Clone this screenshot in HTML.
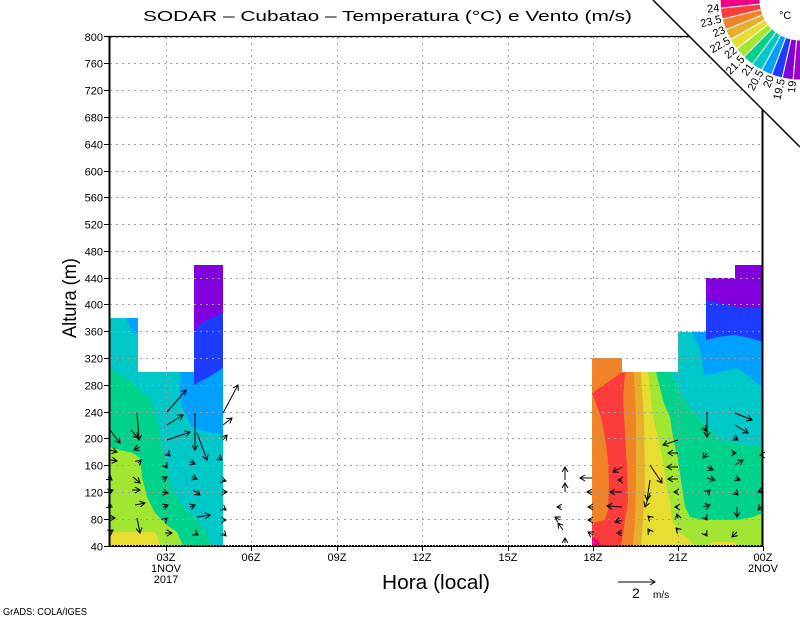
<!DOCTYPE html>
<html><head><meta charset="utf-8"><style>
html,body{margin:0;padding:0;background:#fff;}
svg{display:block;}
text{font-family:"Liberation Sans",sans-serif;fill:#000;}
</style></head><body>
<svg width="800" height="618" viewBox="0 0 800 618" xmlns="http://www.w3.org/2000/svg">
<defs>
<marker id="ah" markerWidth="7" markerHeight="8" refX="0" refY="0" viewBox="-6 -4 7 8" orient="auto" markerUnits="userSpaceOnUse">
<path d="M-5,-3 L0,0 L-5,3" fill="none" stroke="#000" stroke-width="1"/>
</marker>
<clipPath id="cl"><polygon points="110,546 110,318 138,318 138,372 194,372 194,265 223,265 223,546"/></clipPath>
<clipPath id="cr"><polygon points="592,546 592,358 622,358 622,372 678,372 678,332 706,332 706,278 735,278 735,265 763,265 763,546"/></clipPath>
</defs>
<rect width="800" height="618" fill="#fff"/>

<!-- Left data block -->
<g clip-path="url(#cl)">
<rect x="100" y="250" width="130" height="300" fill="#00c8c8"/>
<polygon points="126,318 138,318 138,334 133,333" fill="#00a0ff"/>
<polygon points="180,372 194,372 194,265 223,265 223,435 200,430 192,427 182,407 180,397" fill="#00a0ff"/>
<polygon points="194,265 223,265 223,368 207,378 197,383 195,386 194,385" fill="#1e3cff"/>
<polygon points="194,265 223,265 223,313 213,317 203,322 197,328 194,332" fill="#8200dc"/>
<polygon points="110,367 120,375 133,383 143,393 150,397 158,423 163,450 170,483 180,503 197,520 207,533 210,546 110,546" fill="#00d28c"/>
<polygon points="110,447 120,450 133,453 140,458 142,477 147,497 155,513 167,525 177,532 183,546 110,546" fill="#a0e632"/>
<polygon points="110,532 155,532 158,538 160,546 110,546" fill="#e6dc32"/>
</g>

<!-- Right data block -->
<g clip-path="url(#cr)">
<rect x="585" y="250" width="185" height="300" fill="#f08228"/>
<polygon points="592,393 621,373 625,372 623,400 625,433 627,467 628,500 625,520 621,546 592,546 592,523 605,520 608,510 609,483 608,460 605,437 601,417" fill="#fa3c3c"/>
<polygon points="592,537 598,540 602,546 592,546" fill="#f00082"/>
<polygon points="634,372 636,420 636,483 635,520 633,546 770,546 770,250 634,250" fill="#e6af2d"/>
<polygon points="641,372 644,420 645,483 643,520 641,546 770,546 770,250 641,250" fill="#e6dc32"/>
<polygon points="648,372 653,417 658,437 663,460 666,483 670,500 672,520 680,533 690,540 694,546 770,546 770,250 648,250" fill="#a0e632"/>
<polygon points="707,546 712,542 735,542 738,546" fill="#e6dc32"/>
<polygon points="656,372 670,372 680,393 690,407 700,420 713,433 723,442 733,442 747,445 763,447 763,513 753,517 737,520 703,520 690,517 685,507 682,487 678,460 673,437 670,418 663,400" fill="#00d28c"/>
<polygon points="670,372 678,372 678,332 706,332 706,265 763,265 763,447 747,445 733,442 723,442 713,433 700,420 690,407 680,393" fill="#00c8c8"/>
<polygon points="692,332 706,332 706,265 763,265 763,388 750,377 737,368 720,372 704,375 700,350" fill="#00a0ff"/>
<polygon points="706,265 763,265 763,342 750,338 735,335 717,337 707,340 706,340" fill="#1e3cff"/>
<polygon points="706,265 763,265 763,308 737,307 720,303 706,300" fill="#8200dc"/>
</g>

<!-- Grid -->
<g stroke="#a0a0a0" stroke-width="1" stroke-dasharray="2,4" fill="none">
<path d="M110,37.5H763 M110,63.5H763 M110,90.5H763 M110,117.5H763 M110,144.5H763 M110,171.5H763 M110,197.5H763 M110,224.5H763 M110,251.5H763 M110,278.5H763 M110,304.5H763 M110,331.5H763 M110,358.5H763 M110,385.5H763 M110,412.5H763 M110,438.5H763 M110,465.5H763 M110,492.5H763 M110,519.5H763"/>
<path d="M166.5,37V546 M251.5,37V546 M337.5,37V546 M422.5,37V546 M508.5,37V546 M593.5,37V546 M678.5,37V546"/>
</g>

<!-- Arrows -->
<g stroke="#000" stroke-width="1" fill="none" marker-end="url(#ah)">
<line x1="110" y1="430" x2="120" y2="443"/><line x1="110" y1="450" x2="117" y2="452"/><line x1="110" y1="460" x2="117" y2="461"/><line x1="108" y1="477" x2="112" y2="480"/><line x1="108" y1="492" x2="113" y2="490"/><line x1="108" y1="505" x2="112" y2="507"/><line x1="110" y1="518" x2="115" y2="518"/><line x1="110" y1="532" x2="113" y2="530"/>
<line x1="137" y1="413" x2="139" y2="440"/><line x1="131" y1="430" x2="138" y2="438"/><line x1="140" y1="447" x2="134" y2="450"/><line x1="138" y1="463" x2="141" y2="460"/><line x1="133" y1="477" x2="140" y2="483"/><line x1="132" y1="490" x2="140" y2="490"/><line x1="135" y1="505" x2="145" y2="503"/><line x1="137" y1="518" x2="140" y2="533"/>
<line x1="167" y1="412" x2="186" y2="390"/><line x1="167" y1="425" x2="183" y2="415"/><line x1="167" y1="440" x2="190" y2="432"/><line x1="167" y1="453" x2="170" y2="456"/><line x1="165" y1="465" x2="167" y2="468"/><line x1="162" y1="480" x2="167" y2="477"/><line x1="162" y1="492" x2="168" y2="493"/><line x1="163" y1="507" x2="168" y2="505"/><line x1="165" y1="520" x2="167" y2="518"/><line x1="165" y1="533" x2="172" y2="533"/>
<line x1="195" y1="413" x2="195" y2="450"/><line x1="197" y1="433" x2="207" y2="460"/><line x1="190" y1="462" x2="195" y2="464"/><line x1="192" y1="477" x2="197" y2="479"/><line x1="193" y1="490" x2="200" y2="495"/><line x1="190" y1="507" x2="195" y2="505"/><line x1="197" y1="517" x2="210" y2="515"/><line x1="195" y1="533" x2="198" y2="535"/>
<line x1="223" y1="413" x2="238" y2="385"/><line x1="223" y1="425" x2="232" y2="418"/><line x1="223" y1="440" x2="227" y2="435"/><line x1="218" y1="457" x2="222" y2="460"/><line x1="222" y1="480" x2="226" y2="481"/><line x1="222" y1="492" x2="227" y2="492"/><line x1="223" y1="508" x2="226" y2="510"/><line x1="223" y1="520" x2="226" y2="520"/><line x1="223" y1="533" x2="226" y2="536"/>
<line x1="565" y1="480" x2="565" y2="467"/><line x1="565" y1="492" x2="565" y2="483"/><line x1="561" y1="507" x2="557" y2="507"/><line x1="560" y1="520" x2="555" y2="517"/><line x1="563" y1="530" x2="558" y2="523"/><line x1="565" y1="543" x2="565" y2="538"/>
<line x1="592" y1="478" x2="580" y2="478"/><line x1="592" y1="492" x2="587" y2="492"/><line x1="593" y1="507" x2="588" y2="507"/><line x1="592" y1="520" x2="588" y2="520"/><line x1="593" y1="535" x2="588" y2="532"/>
<line x1="622" y1="467" x2="613" y2="472"/><line x1="622" y1="480" x2="618" y2="480"/><line x1="622" y1="492" x2="610" y2="492"/><line x1="622" y1="507" x2="607" y2="506"/><line x1="622" y1="520" x2="615" y2="522"/><line x1="622" y1="533" x2="617" y2="533"/>
<line x1="650" y1="465" x2="662" y2="483"/><line x1="650" y1="480" x2="647" y2="500"/><line x1="650" y1="493" x2="645" y2="507"/><line x1="650" y1="518" x2="648" y2="516"/><line x1="650" y1="532" x2="648" y2="529"/>
<line x1="678" y1="440" x2="663" y2="445"/><line x1="678" y1="453" x2="668" y2="453"/><line x1="678" y1="467" x2="667" y2="467"/><line x1="678" y1="479" x2="668" y2="479"/><line x1="678" y1="492" x2="674" y2="492"/><line x1="678" y1="507" x2="675" y2="507"/><line x1="678" y1="518" x2="677" y2="514"/><line x1="678" y1="530" x2="676" y2="528"/>
<line x1="707" y1="412" x2="707" y2="437"/><line x1="703" y1="427" x2="706" y2="431"/><line x1="707" y1="453" x2="703" y2="458"/><line x1="707" y1="467" x2="713" y2="470"/><line x1="707" y1="478" x2="715" y2="480"/><line x1="707" y1="493" x2="710" y2="490"/><line x1="703" y1="507" x2="710" y2="505"/><line x1="705" y1="517" x2="707" y2="520"/><line x1="705" y1="533" x2="707" y2="536"/>
<line x1="735" y1="413" x2="752" y2="420"/><line x1="735" y1="425" x2="748" y2="433"/><line x1="733" y1="437" x2="738" y2="440"/><line x1="732" y1="453" x2="736" y2="453"/><line x1="735" y1="465" x2="743" y2="460"/><line x1="735" y1="478" x2="740" y2="480"/><line x1="735" y1="492" x2="738" y2="495"/><line x1="737" y1="507" x2="737" y2="517"/><line x1="737" y1="532" x2="732" y2="537"/>
<line x1="763" y1="455" x2="760" y2="455"/><line x1="763" y1="490" x2="758" y2="492"/><line x1="763" y1="505" x2="758" y2="510"/>
</g>

<!-- Axes -->
<g stroke="#000" fill="none">
<line x1="104" y1="36.5" x2="763" y2="36.5" stroke-width="1.2"/>
<line x1="109.5" y1="36" x2="109.5" y2="547" stroke-width="2"/>
<line x1="762.5" y1="36" x2="762.5" y2="547" stroke-width="2"/>
<line x1="109" y1="546.5" x2="763" y2="546.5" stroke-width="1"/>
<line x1="109" y1="545.5" x2="763" y2="545.5" stroke-width="1" stroke-dasharray="2,1"/>
<path stroke-width="1" d="M104,63.5H109 M104,90.5H109 M104,117.5H109 M104,144.5H109 M104,171.5H109 M104,197.5H109 M104,224.5H109 M104,251.5H109 M104,278.5H109 M104,304.5H109 M104,331.5H109 M104,358.5H109 M104,385.5H109 M104,412.5H109 M104,438.5H109 M104,465.5H109 M104,492.5H109 M104,519.5H109 M104,546.5H109"/>
<path stroke-width="1" d="M166.5,546V551 M251.5,546V551 M337.5,546V551 M422.5,546V551 M508.5,546V551 M593.5,546V551 M678.5,546V551 M763.5,546V551"/>
</g>

<!-- Corner white triangle and diagonal -->
<polygon points="653,0 800,0 800,147" fill="#fff"/>
<line x1="653" y1="0" x2="800" y2="147" stroke="#000" stroke-width="1.5"/>

<!-- Colorbar -->
<g stroke="#fff" stroke-width="1">
<path d="M720.05,-2.79 L720.43,8.25 L760.21,4.13 L760.02,-1.40Z" fill="#f00082"/>
<path d="M720.43,8.25 A80,80 0 0 0 722.32,19.14 L761.16,9.57 A40,40 0 0 1 760.21,4.13Z" fill="#fa3c3c"/>
<path d="M722.32,19.14 A80,80 0 0 0 725.70,29.66 L762.85,14.83 A40,40 0 0 1 761.16,9.57Z" fill="#f08228"/>
<path d="M725.70,29.66 A80,80 0 0 0 730.50,39.61 L765.25,19.81 A40,40 0 0 1 762.85,14.83Z" fill="#e6af2d"/>
<path d="M730.50,39.61 A80,80 0 0 0 736.62,48.81 L768.31,24.41 A40,40 0 0 1 765.25,19.81Z" fill="#e6dc32"/>
<path d="M736.62,48.81 A80,80 0 0 0 743.93,57.07 L771.97,28.53 A40,40 0 0 1 768.31,24.41Z" fill="#a0e632"/>
<path d="M743.93,57.07 A80,80 0 0 0 752.34,64.26 L776.17,32.13 A40,40 0 0 1 771.97,28.53Z" fill="#00d28c"/>
<path d="M752.34,64.26 A80,80 0 0 0 761.65,70.21 L780.83,35.11 A40,40 0 0 1 776.17,32.13Z" fill="#00c8c8"/>
<path d="M761.65,70.21 A80,80 0 0 0 771.70,74.83 L785.85,37.41 A40,40 0 0 1 780.83,35.11Z" fill="#00a0ff"/>
<path d="M771.70,74.83 A80,80 0 0 0 782.28,78.01 L791.14,39.01 A40,40 0 0 1 785.85,37.41Z" fill="#1e3cff"/>
<path d="M782.28,78.01 A80,80 0 0 0 793.19,79.71 L796.60,39.85 A40,40 0 0 1 791.14,39.01Z" fill="#8200dc"/>
<path d="M793.19,79.71 A80,80 0 0 0 804.24,79.89 L802.12,39.94 A40,40 0 0 1 796.60,39.85Z" fill="#a000c8"/>
</g>
<g font-size="11" text-anchor="end" dominant-baseline="central">
<text transform="translate(719.4,8.4) rotate(354.08)">24</text>
<text transform="translate(721.4,19.4) rotate(346.16)">23.5</text>
<text transform="translate(724.8,30.0) rotate(338.24)">23</text>
<text transform="translate(729.6,40.1) rotate(330.32)">22.5</text>
<text transform="translate(735.8,49.4) rotate(322.40)">22</text>
<text transform="translate(743.2,57.8) rotate(314.48)">21.5</text>
<text transform="translate(751.7,65.1) rotate(306.56)">21</text>
<text transform="translate(761.2,71.1) rotate(298.64)">20.5</text>
<text transform="translate(771.3,75.8) rotate(290.72)">20</text>
<text transform="translate(782.1,79.0) rotate(282.80)">19.5</text>
<text transform="translate(793.1,80.7) rotate(274.88)">19</text>
</g>
<text x="779" y="19" font-size="11">°C</text>

<!-- Title -->
<text x="143" y="21" font-size="15" textLength="489" lengthAdjust="spacingAndGlyphs">SODAR – Cubatao – Temperatura (°C) e Vento (m/s)</text>

<!-- Y labels -->
<g font-size="11" text-anchor="end">
<text x="103" y="41">800</text><text x="103" y="67.5">760</text><text x="103" y="94.5">720</text><text x="103" y="121.5">680</text><text x="103" y="148.5">640</text><text x="103" y="175.5">600</text><text x="103" y="201.5">560</text><text x="103" y="228.5">520</text><text x="103" y="255.5">480</text><text x="103" y="282.5">440</text><text x="103" y="308.5">400</text><text x="103" y="335.5">360</text><text x="103" y="362.5">320</text><text x="103" y="389.5">280</text><text x="103" y="416.5">240</text><text x="103" y="442.5">200</text><text x="103" y="469.5">160</text><text x="103" y="496.5">120</text><text x="103" y="523.5">80</text><text x="103" y="550.5">40</text>
</g>
<text transform="translate(76,338) rotate(-90)" font-size="19" textLength="80" lengthAdjust="spacingAndGlyphs">Altura (m)</text>

<!-- X labels -->
<g font-size="11" text-anchor="middle">
<text x="166" y="561">03Z</text><text x="166" y="572">1NOV</text><text x="166" y="583">2017</text>
<text x="251" y="561">06Z</text><text x="337" y="561">09Z</text><text x="422" y="561">12Z</text><text x="508" y="561">15Z</text><text x="593" y="561">18Z</text><text x="678" y="561">21Z</text>
<text x="763" y="561">00Z</text><text x="763" y="572">2NOV</text>
</g>
<text x="382" y="589" font-size="20" textLength="108" lengthAdjust="spacingAndGlyphs">Hora (local)</text>

<!-- Vector scale -->
<line x1="618" y1="582" x2="655" y2="582" stroke="#000" stroke-width="1" marker-end="url(#ah)"/>
<text x="632" y="598" font-size="14">2</text>
<text x="653" y="598" font-size="10">m/s</text>

<text x="3" y="615" font-size="10" textLength="84" lengthAdjust="spacingAndGlyphs">GrADS: COLA/IGES</text>
</svg>
</body></html>
